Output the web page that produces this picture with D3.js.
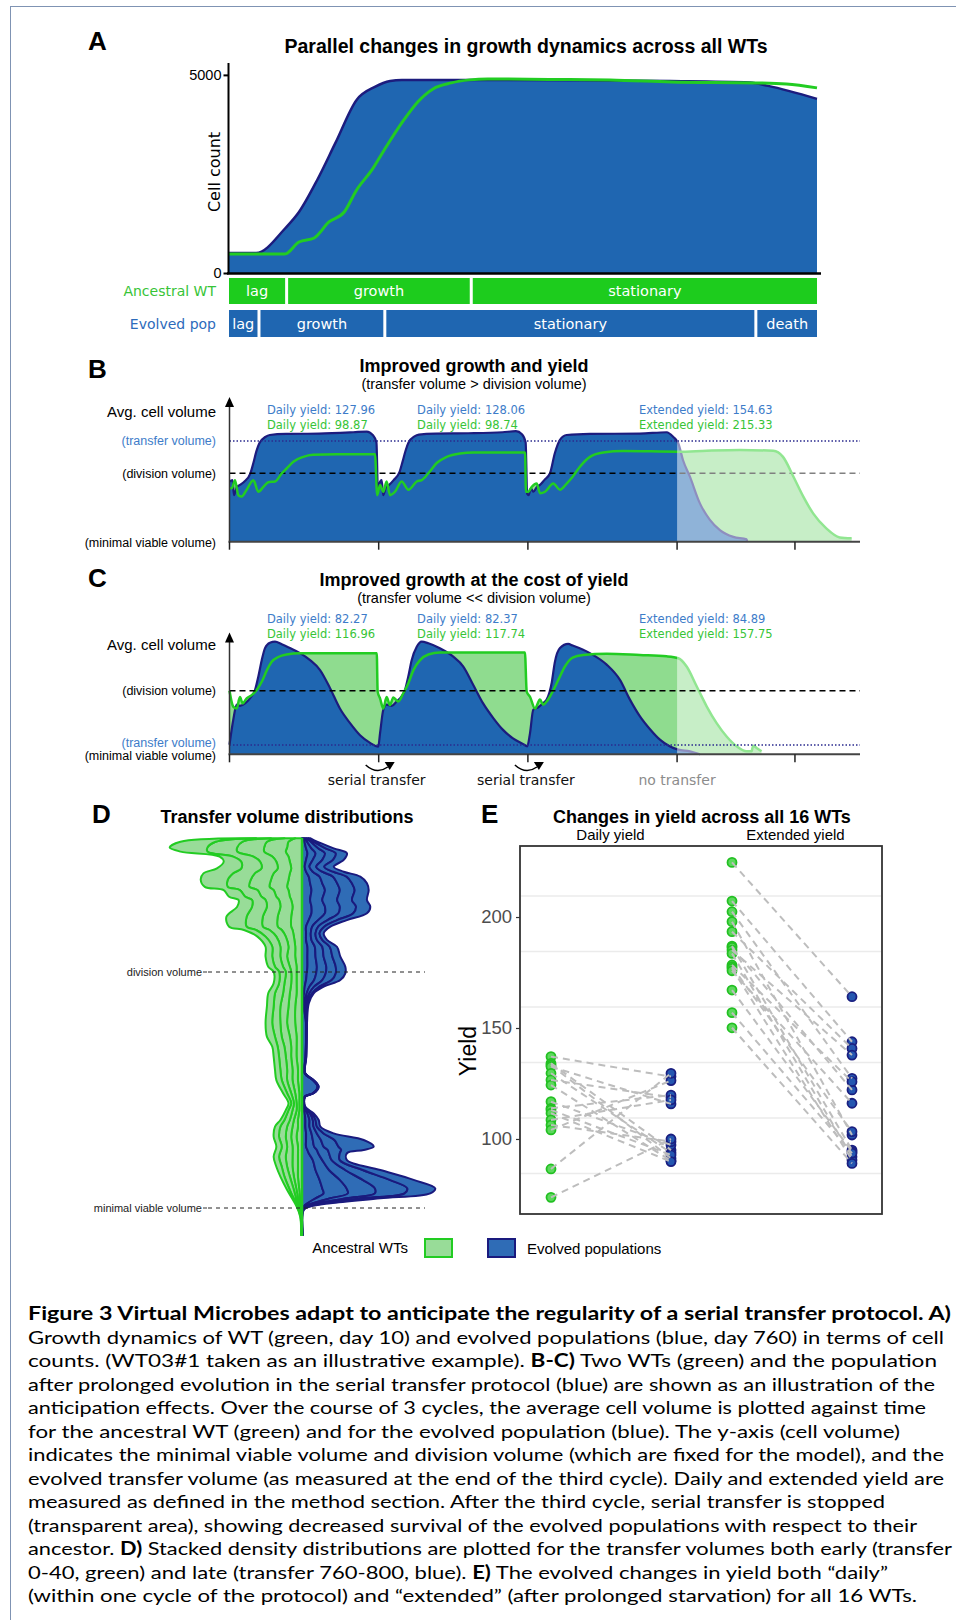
<!DOCTYPE html>
<html>
<head>
<meta charset="utf-8">
<script src="https://cdnjs.cloudflare.com/ajax/libs/d3/7.8.5/d3.min.js"></script>
<style>
  body { margin: 0; background: #fff; }
  svg text { font-family: "Liberation Sans", Arial, sans-serif; }
  svg text.dv { font-family: "DejaVu Sans", sans-serif; }
  svg text.cap { font-family: "Lato", "Liberation Sans", sans-serif; }
</style>
</head>
<body>
<div id="chart"></div>
<script>
// ---------- A: cell counts over one cycle ----------
var evolvedTime  = [0, 4.6, 9.6, 11.9, 15, 18.1, 21.7, 24.8, 27.4, 29.4, 45, 60, 75, 88.6, 91.7, 100];
var evolvedCount = [505, 505, 1136, 1540, 2348, 3283, 4369, 4697, 4848, 4874, 4872, 4862, 4845, 4810, 4722, 4394];
var ancestralTime  = [0, 9.5, 11.9, 14.5, 17, 19.6, 21.7, 24.3, 26.4, 29.5, 32.1, 34.7, 37.8, 40.9, 44, 54.4, 64.8, 75.2, 89.6, 94.8, 100];
var ancestralCount = [480, 480, 783, 884, 1288, 1540, 2096, 2601, 3106, 3813, 4318, 4646, 4798, 4874, 4899, 4886, 4874, 4823, 4798, 4773, 4672];
var countTicks = [0, 5000];
var ancestralPhases = ["lag", "growth", "stationary"];
var ancestralPhaseEnds = [0, 9.8, 41.2, 100];
var evolvedPhases = ["lag", "growth", "stationary", "death"];
var evolvedPhaseEnds = [0, 5.1, 26.5, 89.6, 100];

// ---------- B / C: average cell volume, [time in cycles, volume] ----------
// volume: 0 = minimal viable volume, 1 = division volume
var timeTicks = [0, 1, 2, 3, 3.79];
var bTransferVolume = 1.472;
var bEvolved = [[0,0.88],[0.02,0.9],[0.03,0.68],[0.05,0.8],[0.07,0.83],[0.1,0.88],[0.14,1.0],[0.16,1.15],[0.18,1.32],[0.2,1.44],[0.24,1.53],[0.27,1.56],[0.38,1.575],[0.6,1.58],[0.83,1.6],[0.92,1.61],[0.96,1.56],[0.985,1.45],[0.995,0.73],
  [1.005,0.85],[1.02,0.9],[1.03,0.68],[1.05,0.8],[1.07,0.83],[1.1,0.9],[1.14,1.02],[1.16,1.17],[1.18,1.33],[1.2,1.45],[1.24,1.54],[1.27,1.565],[1.38,1.58],[1.6,1.585],[1.83,1.6],[1.92,1.615],[1.96,1.57],[1.985,1.45],[1.995,0.7],
  [2.005,0.68],[2.02,0.78],[2.036,0.73],[2.06,0.8],[2.081,0.83],[2.11,0.9],[2.148,1.0],[2.18,1.29],[2.215,1.49],[2.26,1.56],[2.416,1.575],[2.75,1.58],[2.93,1.6],[2.975,1.53],[3.008,1.44],
  [3.04,1.19],[3.086,0.95],[3.153,0.56],[3.22,0.32],[3.287,0.17],[3.377,0.07],[3.466,0.035],[3.47,0]];
var bAncestral = [[0,0.78],[0.015,0.78],[0.037,0.9],[0.059,0.68],[0.082,0.66],[0.115,0.76],[0.16,0.9],[0.193,0.73],[0.227,0.8],[0.26,0.87],[0.305,0.88],[0.35,1.0],[0.383,1.07],[0.428,1.17],[0.495,1.24],[0.56,1.27],[0.718,1.28],[0.975,1.28],[0.99,0.68],
  [1.009,0.83],[1.031,0.73],[1.053,0.88],[1.076,0.68],[1.109,0.73],[1.154,0.88],[1.199,0.76],[1.255,0.88],[1.288,0.9],[1.333,1.0],[1.389,1.15],[1.456,1.24],[1.545,1.29],[1.634,1.305],[1.981,1.305],[1.987,0.73],
  [2.003,0.73],[2.025,0.8],[2.059,0.85],[2.081,0.71],[2.115,0.73],[2.17,0.85],[2.215,0.76],[2.26,0.85],[2.3,0.95],[2.35,1.1],[2.416,1.24],[2.505,1.305],[2.64,1.325],[3.008,1.316],
  [3.198,1.33],[3.42,1.34],[3.645,1.33],[3.71,1.24],[3.78,0.95],[3.846,0.66],[3.913,0.41],[4.0,0.195],[4.09,0.063],[4.17,0.05]];
var bEvolvedYield = ["Daily yield: 127.96", "Daily yield: 128.06", "Extended yield: 154.63"];
var bAncestralYield = ["Daily yield: 98.87", "Daily yield: 98.74", "Extended yield: 215.33"];

var cTransferVolume = 0.146;
var cEvolved = [[0,0.15],[0.025,0.54],[0.048,0.78],[0.07,0.76],[0.104,0.8],[0.137,0.88],[0.171,1.01],[0.193,1.22],[0.216,1.48],[0.238,1.67],[0.271,1.755],[0.305,1.77],[0.35,1.73],[0.405,1.67],[0.473,1.59],[0.54,1.48],[0.607,1.325],[0.674,1.04],[0.74,0.72],[0.808,0.49],[0.875,0.3],[0.942,0.18],[0.997,0.12],
  [1.009,0.33],[1.031,0.7],[1.053,0.78],[1.087,0.76],[1.12,0.83],[1.154,0.91],[1.176,1.01],[1.198,1.22],[1.221,1.48],[1.255,1.69],[1.288,1.77],[1.333,1.745],[1.41,1.667],[1.5,1.535],[1.567,1.38],[1.634,1.09],[1.7,0.8],[1.768,0.57],[1.835,0.38],[1.9,0.25],[1.969,0.16],[1.996,0.126],
  [2.014,0.33],[2.036,0.7],[2.07,0.74],[2.1,0.8],[2.126,0.86],[2.16,1.13],[2.18,1.44],[2.215,1.67],[2.27,1.735],[2.3,1.71],[2.416,1.59],[2.528,1.41],[2.617,1.17],[2.684,0.86],[2.75,0.6],[2.82,0.39],[2.885,0.23],[2.95,0.126],[3.008,0.073],
  [3.086,0.047],[3.153,0.0]];
var cAncestral = [[0,1.0],[0.025,0.75],[0.048,0.72],[0.07,0.9],[0.088,0.8],[0.115,0.88],[0.149,0.93],[0.182,1.01],[0.216,1.14],[0.25,1.32],[0.283,1.455],[0.327,1.53],[0.383,1.57],[0.473,1.59],[0.987,1.59],[0.993,0.985],
  [1.009,0.88],[1.031,0.72],[1.053,0.9],[1.076,0.775],[1.098,0.895],[1.131,0.83],[1.165,0.96],[1.198,1.115],[1.232,1.32],[1.277,1.48],[1.333,1.57],[1.41,1.6],[1.98,1.6],[1.992,0.985],
  [2.014,0.905],[2.048,0.72],[2.081,0.86],[2.103,0.78],[2.126,0.83],[2.16,0.96],[2.204,1.17],[2.248,1.38],[2.3,1.52],[2.37,1.56],[2.528,1.58],[2.75,1.56],[2.93,1.54],[3.008,1.51],
  [3.064,1.38],[3.131,1.07],[3.198,0.755],[3.265,0.49],[3.332,0.28],[3.399,0.126],[3.466,0.047],[3.499,0.047],[3.51,0.136],[3.533,0.1],[3.566,0.047]];
var cEvolvedYield = ["Daily yield: 82.27", "Daily yield: 82.37", "Extended yield: 84.89"];
var cAncestralYield = ["Daily yield: 116.96", "Daily yield: 117.74", "Extended yield: 157.75"];
var transferNotes = ["serial transfer", "serial transfer", "no transfer"];

// ---------- D: stacked densities of transfer volume (5 layers per side) ----------
var ancestralVolume = [1.567,1.552,1.528,1.51,1.489,1.467,1.439,1.418,1.39,1.361,1.347,1.319,1.305,1.277,1.234,1.192,1.178,1.15,1.107,1.065,1.022,1.001,0.952,0.91,0.853,0.783,0.726,0.683,0.641,0.585,0.542,0.486,0.444,0.415,0.373,0.345,0.302,0.26,0.217,0.175,0.133,0.076,0.006,-0.037,-0.114];
var ancestralDensity = [
  [0.05,0.08,0.10,0.11,0.12],[0.10,0.16,0.18,0.20,0.26],[0.11,0.17,0.20,0.22,0.28],[0.12,0.16,0.20,0.22,0.20],
  [0.10,0.12,0.14,0.15,0.10],[0.09,0.10,0.12,0.14,0.13],[0.08,0.10,0.12,0.15,0.18],[0.09,0.12,0.14,0.16,0.22],
  [0.10,0.13,0.15,0.17,0.20],[0.11,0.13,0.15,0.16,0.17],[0.10,0.11,0.12,0.13,0.12],[0.09,0.10,0.11,0.12,0.12],
  [0.08,0.09,0.10,0.10,0.10],[0.07,0.09,0.10,0.11,0.11],[0.08,0.10,0.11,0.12,0.15],[0.08,0.10,0.11,0.12,0.13],
  [0.07,0.08,0.09,0.10,0.09],[0.06,0.06,0.07,0.08,0.06],[0.05,0.05,0.06,0.06,0.05],[0.05,0.06,0.05,0.06,0.05],
  [0.04,0.05,0.05,0.06,0.05],[0.04,0.04,0.04,0.05,0.04],[0.04,0.04,0.05,0.04,0.04],[0.04,0.05,0.05,0.06,0.05],
  [0.05,0.05,0.06,0.05,0.05],[0.05,0.06,0.05,0.06,0.05],[0.04,0.05,0.06,0.05,0.06],[0.04,0.04,0.05,0.05,0.04],
  [0.04,0.04,0.04,0.05,0.04],[0.03,0.04,0.04,0.05,0.04],[0.03,0.04,0.04,0.04,0.04],[0.02,0.03,0.03,0.03,0.03],
  [0.02,0.02,0.02,0.02,0.02],[0.02,0.02,0.03,0.03,0.02],[0.03,0.03,0.03,0.04,0.03],[0.03,0.04,0.04,0.05,0.04],
  [0.04,0.04,0.04,0.05,0.04],[0.03,0.04,0.04,0.04,0.04],[0.03,0.04,0.05,0.05,0.04],[0.03,0.04,0.04,0.04,0.04],
  [0.03,0.03,0.03,0.04,0.03],[0.02,0.02,0.02,0.03,0.02],[0.01,0.01,0.01,0.005,0.005],[0.003,0.003,0.003,0.002,0.002],
  [0.002,0.002,0.001,0.001,0.001]];
var evolvedVolume = [1.567,1.559,1.524,1.503,1.475,1.446,1.425,1.404,1.376,1.347,1.305,1.277,1.249,1.22,1.192,1.164,1.136,1.107,1.065,1.022,0.994,0.966,0.938,0.91,0.867,0.783,0.641,0.571,0.542,0.514,0.486,0.472,0.429,0.401,0.373,0.345,0.316,0.288,0.26,0.246,0.232,0.203,0.161,0.119,0.083,0.062,0.041,0.02,0.006,-0.008,-0.114];
var evolvedDensity = [
  [0.01,0.01,0.01,0.015,0.015],[0.015,0.015,0.02,0.017,0.02],[0.03,0.04,0.05,0.055,0.06],[0.04,0.06,0.07,0.08,0.083],
  [0.03,0.05,0.07,0.08,0.079],[0.02,0.035,0.05,0.06,0.07],[0.03,0.05,0.07,0.08,0.079],[0.05,0.08,0.1,0.1,0.102],
  [0.06,0.09,0.11,0.11,0.111],[0.07,0.1,0.11,0.11,0.104],[0.06,0.09,0.11,0.11,0.111],[0.07,0.1,0.11,0.12,0.106],
  [0.07,0.1,0.1,0.11,0.101],[0.05,0.07,0.07,0.07,0.073],[0.03,0.045,0.045,0.045,0.045],[0.03,0.035,0.035,0.03,0.031],
  [0.03,0.04,0.04,0.04,0.035],[0.04,0.055,0.055,0.055,0.054],[0.04,0.06,0.06,0.065,0.059],[0.04,0.07,0.07,0.07,0.071],
  [0.035,0.07,0.07,0.075,0.071],[0.03,0.06,0.06,0.07,0.064],[0.02,0.035,0.035,0.04,0.031],[0.015,0.02,0.02,0.02,0.012],
  [0.01,0.01,0.01,0.01,0.01],[0.03,0.002,0.002,0.002,0.001],[0.026,0.002,0.002,0.001,0.001],[0.02,0.001,0.001,0.001,0.001],
  [0.08,0.002,0.002,0.002,0.001],[0.115,0.003,0.002,0.002,0.002],[0.08,0.002,0.002,0.002,0.001],[0.02,0.001,0.001,0.001,0.001],
  [0.01,0.005,0.004,0.003,0.002],[0.02,0.02,0.02,0.015,0.012],[0.025,0.03,0.025,0.02,0.024],[0.025,0.03,0.03,0.025,0.026],
  [0.03,0.04,0.04,0.05,0.075],[0.03,0.05,0.06,0.1,0.217],[0.03,0.06,0.07,0.11,0.261],[0.04,0.07,0.08,0.1,0.167],
  [0.05,0.07,0.08,0.08,0.053],[0.08,0.07,0.07,0.06,0.053],[0.1,0.1,0.12,0.13,0.13],[0.13,0.15,0.17,0.2,0.177],
  [0.15,0.18,0.21,0.24,0.207],[0.16,0.18,0.2,0.22,0.19],[0.1,0.11,0.12,0.13,0.12],[0.04,0.04,0.04,0.05,0.04],
  [0.012,0.012,0.012,0.013,0.012],[0.003,0.003,0.003,0.002,0.002],[0.002,0.002,0.001,0.001,0.001]];

// ---------- E: yield per WT (index = WT) ----------
var yieldTypes = ["Daily yield", "Extended yield"];
var popGroups = ["Ancestral", "Evolved"];
var dailyAncestral = [137.1,134.1,133.3,132.6,129.6,126.6,124.3,116.8,113.8,113.1,111.6,108.6,106.3,104.1,86.5,73.7];
var dailyEvolved   = [128.1,95.0,91.3,115.8,93.8,118.8,90.2,97.3,119.8,92.8,89.8,117.6,98.8,126.3,129.6,100.0];
var extendedAncestral = [224.6,207.2,202.4,197.9,193.4,186.9,186.3,185.1,183.6,178.4,177.6,176.9,175.8,167.1,156.9,150.1];
var extendedEvolved   = [164.1,143.8,127.3,101.8,140.8,95.0,122.1,137.8,92.0,125.8,103.3,90.5,116.1,94.3,93.6,89.0];
var yieldTicks = [100, 150, 200];
var yieldGrid = [84.5, 109.5, 134.5, 159.5, 184.5, 209.5];

var green = "#22cc22", greenFill = "#8fdc8f", blue = "#1f66b1", navy = "#1c1c7e";
var barGreen = "#1dcc1d", labelBlue = "#3d7cc9", labelGreen = "#37c437";

var svg = d3.select("#chart").append("svg").attr("width", 956).attr("height", 1620);

// page frame
svg.append("rect").attr("x", 10.5).attr("y", 6.5).attr("width", 1000).attr("height", 1700)
  .attr("fill", "none").attr("stroke", "#7f93b3").attr("stroke-width", 1);

function panelLabel(t, x, y) {
  svg.append("text").attr("x", x).attr("y", y).attr("font-size", 26).attr("font-weight", "bold").text(t);
}
function centered(t, x, y, size, bold, cls) {
  return svg.append("text").attr("class", cls || null).attr("x", x).attr("y", y).attr("text-anchor", "middle")
    .attr("font-size", size).attr("font-weight", bold ? "bold" : "normal").text(t);
}

// ================= A =================
panelLabel("A", 88, 50);
centered("Parallel changes in growth dynamics across all WTs", 526, 53, 19.5, true);

var aX = d3.scaleLinear().domain([0, 100]).range([229, 817]);
var aY = d3.scaleLinear().domain([0, 5300]).range([273, 63]);
var evolvedPts = evolvedTime.map((t, i) => [t, evolvedCount[i]]);
var ancestralPts = ancestralTime.map((t, i) => [t, ancestralCount[i]]);

svg.append("path").datum(evolvedPts)
  .attr("d", d3.area().curve(d3.curveMonotoneX).x(d => aX(d[0])).y0(aY(0)).y1(d => aY(d[1])))
  .attr("fill", blue);
svg.append("path").datum(evolvedPts)
  .attr("d", d3.line().curve(d3.curveMonotoneX).x(d => aX(d[0])).y(d => aY(d[1])))
  .attr("fill", "none").attr("stroke", navy).attr("stroke-width", 2.5);
svg.append("path").datum(ancestralPts)
  .attr("d", d3.line().curve(d3.curveMonotoneX).x(d => aX(d[0])).y(d => aY(d[1])))
  .attr("fill", "none").attr("stroke", green).attr("stroke-width", 3);

svg.append("line").attr("x1", 228.5).attr("x2", 228.5).attr("y1", 63).attr("y2", 274)
  .attr("stroke", "#000").attr("stroke-width", 2);
svg.append("line").attr("x1", 227).attr("x2", 821).attr("y1", 273.5).attr("y2", 273.5)
  .attr("stroke", "#000").attr("stroke-width", 2.5);
var aAxis = svg.append("g").attr("transform", "translate(228.5,0)")
  .call(d3.axisLeft(aY).tickValues(countTicks).tickFormat(d3.format("d")).tickSize(5).tickPadding(2));
aAxis.select(".domain").remove();
aAxis.selectAll("line").attr("stroke-width", 2);
aAxis.selectAll("text").attr("font-size", 14.5).attr("fill", "#000");
svg.append("text").attr("class", "dv").attr("transform", "translate(220,172) rotate(-90)")
  .attr("text-anchor", "middle").attr("font-size", 16).text("Cell count");

function phaseBar(names, ends, y0, h, color, label, labelColor) {
  names.forEach((n, i) => {
    var x0 = aX(ends[i]) + (i > 0 ? 1.5 : 0);
    var x1 = aX(ends[i + 1]) - (i < names.length - 1 ? 1.5 : 0);
    svg.append("rect").attr("x", x0).attr("y", y0).attr("width", x1 - x0).attr("height", h).attr("fill", color);
    svg.append("text").attr("class", "dv").attr("x", (x0 + x1) / 2).attr("y", y0 + h / 2).attr("dy", "0.36em")
      .attr("text-anchor", "middle").attr("fill", "#fff").attr("font-size", 14.5).text(n);
  });
  svg.append("text").attr("class", "dv").attr("x", 216).attr("y", y0 + h / 2).attr("dy", "0.36em")
    .attr("text-anchor", "end").attr("fill", labelColor).attr("font-size", 14).text(label);
}
phaseBar(ancestralPhases, ancestralPhaseEnds, 278, 26, barGreen, "Ancestral WT", labelGreen);
phaseBar(evolvedPhases, evolvedPhaseEnds, 310, 27, blue, "Evolved pop", "#2d6bbb");

// ================= B / C =================
var timeEnd = 4.226;
function volumePanel(c) {
  var x = d3.scaleLinear().domain([0, timeEnd]).range([229.5, 860]);
  var y = d3.scaleLinear().domain([0, c.vTop]).range([c.base, c.top]);
  var area = d3.area().curve(d3.curveMonotoneX).x(d => x(d[0])).y0(y(0)).y1(d => y(d[1]));
  var line = d3.line().curve(d3.curveMonotoneX).x(d => x(d[0])).y(d => y(d[1]));
  var g = svg.append("g");

  g.append("path").datum(c.ancestral).attr("d", area).attr("fill", greenFill);
  g.append("path").datum(c.evolved).attr("d", area).attr("fill", blue);
  g.append("path").datum(c.evolved).attr("d", line).attr("fill", "none").attr("stroke", navy).attr("stroke-width", 2.2);
  function divisionLine() {
    g.append("line").attr("x1", x(0)).attr("x2", 860).attr("y1", y(1)).attr("y2", y(1))
      .attr("stroke", "#000").attr("stroke-width", 1.6).attr("stroke-dasharray", "6,4");
  }
  if (!c.dashOnTop) divisionLine();
  g.append("path").datum(c.ancestral).attr("d", line).attr("fill", "none").attr("stroke", green).attr("stroke-width", 2.5);

  // transfer stopped: faded area
  g.append("rect").attr("x", x(3)).attr("y", c.overlayTop).attr("width", 861 - x(3))
    .attr("height", c.base - c.overlayTop).attr("fill", "#fff").attr("opacity", 0.5);
  if (c.dashOnTop) divisionLine();
  g.append("line").attr("x1", x(0)).attr("x2", 860).attr("y1", y(c.transferV)).attr("y2", y(c.transferV))
    .attr("stroke", "#2b2b8f").attr("stroke-width", 1.5).attr("stroke-dasharray", "1.5,2");

  // axes
  g.append("line").attr("x1", x(0)).attr("x2", x(0)).attr("y1", c.top + 8).attr("y2", c.base)
    .attr("stroke", "#333").attr("stroke-width", 1.5);
  g.append("path").attr("d", "M" + (x(0) - 4.5) + "," + (c.top + 10) + "L" + x(0) + "," + c.top + "L" + (x(0) + 4.5) + "," + (c.top + 10) + "Z")
    .attr("fill", "#000");
  g.append("line").attr("x1", x(0) - 1).attr("x2", 860).attr("y1", c.base).attr("y2", c.base)
    .attr("stroke", "#444").attr("stroke-width", 2);
  g.selectAll(".tk").data(timeTicks).join("line").attr("class", "tk")
    .attr("x1", d => x(d)).attr("x2", d => x(d)).attr("y1", c.base).attr("y2", c.base + 8)
    .attr("stroke", "#222").attr("stroke-width", 1.5);

  // y labels
  g.append("text").attr("x", 216).attr("y", c.avgY).attr("text-anchor", "end").attr("font-size", 15).text("Avg. cell volume");
  g.append("text").attr("x", 216).attr("y", y(1)).attr("dy", "0.35em").attr("text-anchor", "end").attr("font-size", 12.5).text("(division volume)");
  g.append("text").attr("x", 216).attr("y", y(c.transferV) + c.transferDy).attr("dy", "0.35em").attr("text-anchor", "end")
    .attr("font-size", 12.5).attr("fill", labelBlue).text("(transfer volume)");
  g.append("text").attr("x", 216).attr("y", c.base + c.minDy).attr("dy", "0.35em").attr("text-anchor", "end").attr("font-size", 12.5).text("(minimal viable volume)");

  // yield annotations
  var lx = [x(0.251), x(1.257), x(2.745)];
  c.evolvedYield.forEach((t, i) => {
    g.append("text").attr("class", "dv").attr("x", lx[i]).attr("y", c.yieldY).attr("font-size", 11.5).attr("fill", labelBlue).text(t);
    g.append("text").attr("class", "dv").attr("x", lx[i]).attr("y", c.yieldY + 15).attr("font-size", 11.5).attr("fill", labelGreen).text(c.ancestralYield[i]);
  });
  return x;
}

panelLabel("B", 88, 378);
centered("Improved growth and yield", 474, 372, 18, true);
centered("(transfer volume > division volume)", 474, 389, 14.5);
volumePanel({ evolved: bEvolved, ancestral: bAncestral, transferV: bTransferVolume, vTop: 2.115, base: 541.7, top: 397,
  overlayTop: 433, dashOnTop: false, avgY: 417, transferDy: 0, minDy: 0.5, yieldY: 414,
  evolvedYield: bEvolvedYield, ancestralYield: bAncestralYield });

panelLabel("C", 88, 587);
centered("Improved growth at the cost of yield", 474, 586, 18, true);
centered("(transfer volume << division volume)", 474, 603, 14.5);
var cx = volumePanel({ evolved: cEvolved, ancestral: cAncestral, transferV: cTransferVolume, vTop: 1.915, base: 754.3, top: 632.5,
  overlayTop: 642, dashOnTop: true, avgY: 650, transferDy: -2.5, minDy: 1, yieldY: 623,
  evolvedYield: cEvolvedYield, ancestralYield: cAncestralYield });

[1, 2].forEach(t => {
  var px = cx(t);
  svg.append("path").attr("d", "M" + (px - 13) + ",765 Q" + (px - 2) + ",775 " + (px + 9) + ",767")
    .attr("fill", "none").attr("stroke", "#000").attr("stroke-width", 1.5);
  svg.append("path").attr("d", "M" + (px + 6) + ",762 L" + (px + 16) + ",762 L" + (px + 11) + ",770 Z").attr("fill", "#000");
});
transferNotes.forEach((t, i) => {
  svg.append("text").attr("class", "dv").attr("x", cx(i === 2 ? 3 : i + 1) - (i === 2 ? 0 : 2)).attr("y", 785)
    .attr("text-anchor", "middle").attr("font-size", 14).attr("fill", i === 2 ? "#8c8c8c" : "#111").text(t);
});

// ================= D =================
panelLabel("D", 92, 823);
centered("Transfer volume distributions", 287, 823, 18, true);
var dY = d3.scaleLinear().domain([0, 1]).range([1208, 972]);
var dW = d3.scaleLinear().domain([0, 1]).range([0, 135]);
var dCx = 302;
function densitySide(vols, rows, dir, fill, stroke) {
  var stacked = d3.stack().keys(d3.range(rows[0].length)).value((r, k) => r[k])(rows);
  var area = d3.area().curve(d3.curveCatmullRom.alpha(0.5))
    .y((d, i) => dY(vols[i]))
    .x0(d => dCx + dir * dW(d[0]))
    .x1(d => dCx + dir * dW(d[1]));
  svg.append("g").selectAll("path").data(stacked).join("path")
    .attr("d", area).attr("fill", fill).attr("stroke", stroke).attr("stroke-width", 2).attr("stroke-linejoin", "round");
}
densitySide(ancestralVolume, ancestralDensity, -1, "#98dc98", "#22cc22");
densitySide(evolvedVolume, evolvedDensity, 1, "#2f6cb6", "#1a1a7e");
svg.append("line").attr("x1", dCx).attr("x2", dCx).attr("y1", 838).attr("y2", 1236).attr("stroke", "#22cc22").attr("stroke-width", 2.5);
[[1, "division volume"], [0, "minimal viable volume"]].forEach(d => {
  var yy = dY(d[0]);
  svg.append("line").attr("x1", 208).attr("x2", 425).attr("y1", yy).attr("y2", yy)
    .attr("stroke", "#222").attr("stroke-width", 1).attr("stroke-dasharray", "4,4");
  svg.append("line").attr("x1", 203).attr("x2", 207).attr("y1", yy).attr("y2", yy).attr("stroke", "#333").attr("stroke-width", 1);
  svg.append("text").attr("x", 202).attr("y", yy).attr("dy", "0.35em").attr("text-anchor", "end")
    .attr("font-size", 11).attr("fill", "#222").text(d[1]);
});

// legend
svg.append("text").attr("x", 408).attr("y", 1248).attr("dy", "0.35em").attr("text-anchor", "end").attr("font-size", 15).text("Ancestral WTs");
svg.append("rect").attr("x", 425).attr("y", 1239).attr("width", 27).attr("height", 18).attr("fill", "#98dc98").attr("stroke", "#22cc22").attr("stroke-width", 2);
svg.append("rect").attr("x", 488).attr("y", 1239).attr("width", 27).attr("height", 18).attr("fill", "#2f6cb6").attr("stroke", "#1a1a7e").attr("stroke-width", 2);
svg.append("text").attr("x", 527).attr("y", 1249).attr("dy", "0.35em").attr("font-size", 15).text("Evolved populations");

// ================= E =================
panelLabel("E", 481, 823);
centered("Changes in yield across all 16 WTs", 702, 823, 18, true);
var eY = d3.scaleLinear().domain([66.2, 232]).range([1214, 846]);
var facet = d3.scaleBand().domain(yieldTypes).range([520, 882]);
var grp = d3.scalePoint().domain(popGroups).range([31, 151]);
yieldTypes.forEach(t => centered(t, facet(t) + facet.bandwidth() / 2 + (t === yieldTypes[0] ? 0 : 4), 840, 15));

var eG = svg.append("g");
eG.selectAll(".grid").data(yieldGrid).join("line").attr("class", "grid")
  .attr("x1", 521).attr("x2", 881).attr("y1", d => eY(d)).attr("y2", d => eY(d))
  .attr("stroke", "#ebebeb").attr("stroke-width", 1.5);

var eSets = [[dailyAncestral, dailyEvolved], [extendedAncestral, extendedEvolved]];
eSets.forEach((s, fi) => {
  var fx = facet(yieldTypes[fi]);
  var xa = fx + grp("Ancestral"), xe = fx + grp("Evolved");
  eG.append("g").selectAll("circle").data(s[0]).join("circle")
    .attr("cx", xa).attr("cy", d => eY(d)).attr("r", 4.5).attr("fill", "#5cd85c").attr("stroke", "#22c022").attr("stroke-width", 1.8);
  eG.append("g").selectAll("circle").data(s[1]).join("circle")
    .attr("cx", xe).attr("cy", d => eY(d)).attr("r", 4.5).attr("fill", "#2456b0").attr("stroke", "#1a1f80").attr("stroke-width", 1.8);
  eG.append("g").selectAll("line").data(s[0]).join("line")
    .attr("x1", xa).attr("y1", d => eY(d)).attr("x2", xe).attr("y2", (d, i) => eY(s[1][i]))
    .attr("stroke", "#bdbdbd").attr("stroke-width", 2).attr("stroke-dasharray", "7,5");
});
eG.append("rect").attr("x", 520).attr("y", 846).attr("width", 362).attr("height", 368)
  .attr("fill", "none").attr("stroke", "#333").attr("stroke-width", 1.8);
var eAxis = svg.append("g").attr("transform", "translate(520,0)")
  .call(d3.axisLeft(eY).tickValues(yieldTicks).tickSize(4).tickPadding(4));
eAxis.select(".domain").remove();
eAxis.selectAll("line").attr("stroke", "#333").attr("stroke-width", 1.2);
eAxis.selectAll("text").attr("font-size", 18.5).attr("fill", "#4d4d4d");
svg.append("text").attr("transform", "translate(468,1051) rotate(-90)").attr("text-anchor", "middle")
  .attr("dy", "0.35em").attr("font-size", 23).text("Yield");

// ================= caption =================
var captionLines = [
  [["b", "Figure 3  Virtual Microbes adapt to anticipate the regularity of a serial transfer protocol. A)"]],
  [["", "Growth dynamics of WT (green, day 10) and evolved populations (blue, day 760) in terms of cell"]],
  [["", "counts. (WT03#1 taken as an illustrative example). "], ["b", "B-C)"], ["", " Two WTs (green) and the population"]],
  [["", "after prolonged evolution in the serial transfer protocol (blue) are shown as an illustration of the"]],
  [["", "anticipation effects. Over the course of 3 cycles, the average cell volume is plotted against time"]],
  [["", "for the ancestral WT (green) and for the evolved population (blue). The y-axis (cell volume)"]],
  [["", "indicates the minimal viable volume and division volume (which are fixed for the model), and the"]],
  [["", "evolved transfer volume (as measured at the end of the third cycle). Daily and extended yield are"]],
  [["", "measured as defined in the method section. After the third cycle, serial transfer is stopped"]],
  [["", "(transparent area), showing decreased survival of the evolved populations with respect to their"]],
  [["", "ancestor. "], ["b", "D)"], ["", " Stacked density distributions are plotted for the transfer volumes both early (transfer"]],
  [["", "0-40, green) and late (transfer 760-800, blue). "], ["b", "E)"], ["", " The evolved changes in yield both \u201cdaily\u201d"]],
  [["", "(within one cycle of the protocol) and \u201cextended\u201d (after prolonged starvation) for all 16 WTs."]]
];
var captionRightEdge = [951, 944, 937, 935, 926, 900, 944, 944, 885, 917, 952, 888, 917];
captionLines.forEach((parts, i) => {
  var t = svg.append("text").attr("class", "cap").attr("x", 28).attr("y", 1320 + i * 23.5)
    .attr("font-size", 18).attr("fill", "#000")
    .attr("textLength", captionRightEdge[i] - 28).attr("lengthAdjust", "spacingAndGlyphs");
  parts.forEach(p => t.append("tspan").attr("font-weight", p[0] === "b" ? "bold" : "normal").text(p[1]));
});
</script>
</body>
</html>
